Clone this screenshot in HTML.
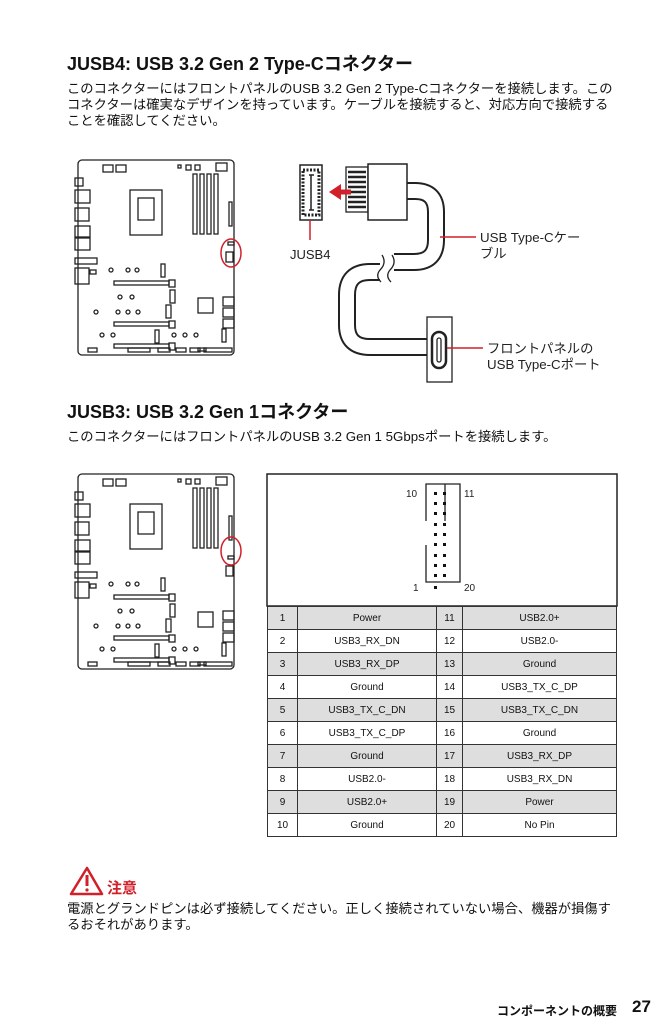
<!DOCTYPE html>
<html><head><meta charset="utf-8"><style>
body{margin:0;width:669px;height:1024px;background:#fff;position:relative;font-family:"Liberation Sans","Noto Sans CJK JP",sans-serif;color:#111;overflow:hidden}
.a{position:absolute;white-space:nowrap}
h2{position:absolute;margin:0;font-size:18px;font-weight:bold}
.p{font-size:13.3px;line-height:16px}
table{position:absolute;left:267px;top:606px;width:350px;border-collapse:collapse;font-size:10px}
td{border:1px solid #333;height:22px;padding:0;text-align:center}
tr.g td{background:#dedede}
</style></head><body>
<h2 class="a" style="left:67px;top:50px">JUSB4: USB 3.2 Gen 2 Type-Cコネクター</h2>
<div class="a p" style="left:67px;top:81px">このコネクターにはフロントパネルのUSB 3.2 Gen 2 Type-Cコネクターを接続します。この<br>コネクターは確実なデザインを持っています。ケーブルを接続すると、対応方向で接続する<br>ことを確認してください。</div>

<svg class="a" style="left:0;top:0" width="669" height="1024">
<defs>
<g id="mb" fill="none" stroke="#222" stroke-width="1.3">
<rect x="0" y="0" width="156" height="195" rx="4"/>
<rect x="-3" y="18" width="8" height="8"/><rect x="-3" y="30" width="15" height="13"/><rect x="-3" y="48" width="14" height="13"/><rect x="-3" y="66" width="15" height="11"/><rect x="-3" y="78" width="15" height="12"/><rect x="-3" y="98" width="22" height="6"/><rect x="-3" y="108" width="14" height="16"/>
<rect x="25" y="5" width="10" height="7"/><rect x="38" y="5" width="10" height="7"/>
<rect x="100" y="5" width="3" height="3"/><rect x="108" y="5" width="5" height="5"/><rect x="117" y="5" width="5" height="5"/><rect x="138" y="3" width="11" height="8"/>
<rect x="115" y="14" width="4" height="60"/><rect x="122" y="14" width="4" height="60"/><rect x="129" y="14" width="4" height="60"/><rect x="136" y="14" width="4" height="60"/>
<rect x="52" y="30" width="32" height="45"/><rect x="60" y="38" width="16" height="22"/>
<rect x="151" y="42" width="3" height="24"/><rect x="150" y="82" width="6" height="3"/><rect x="148" y="92" width="7" height="10"/>
<rect x="12" y="110" width="6" height="4"/>
<circle cx="33" cy="110" r="2"/><circle cx="50" cy="110" r="2"/><circle cx="59" cy="110" r="2"/>
<rect x="83" y="104" width="4" height="13"/>
<rect x="36" y="121" width="55" height="4"/><rect x="91" y="120" width="6" height="7"/><rect x="92" y="130" width="5" height="13"/>
<circle cx="42" cy="137" r="2"/><circle cx="54" cy="137" r="2"/>
<rect x="120" y="138" width="15" height="15"/><rect x="145" y="137" width="11" height="9"/><rect x="145" y="148" width="11" height="9"/><rect x="145" y="159" width="11" height="9"/>
<circle cx="18" cy="152" r="2"/><circle cx="40" cy="152" r="2"/><circle cx="50" cy="152" r="2"/><circle cx="60" cy="152" r="2"/>
<rect x="88" y="145" width="5" height="13"/>
<rect x="36" y="162" width="55" height="4"/><rect x="91" y="161" width="6" height="7"/>
<circle cx="24" cy="175" r="2"/><circle cx="35" cy="175" r="2"/>
<rect x="77" y="170" width="4" height="13"/>
<circle cx="96" cy="175" r="2"/><circle cx="107" cy="175" r="2"/><circle cx="118" cy="175" r="2"/>
<rect x="144" y="169" width="4" height="13"/>
<rect x="36" y="184" width="55" height="4"/><rect x="91" y="183" width="6" height="7"/>
<rect x="120" y="188" width="8" height="3"/>
<rect x="10" y="188" width="9" height="4"/><rect x="50" y="188" width="22" height="4"/><rect x="80" y="188" width="12" height="4"/><rect x="98" y="188" width="10" height="4"/><rect x="112" y="188" width="10" height="4"/><rect x="126" y="188" width="28" height="4"/>
</g>
</defs>
<use href="#mb" x="78" y="160"/>
<ellipse cx="231" cy="253" rx="10" ry="14" fill="none" stroke="#d0202a" stroke-width="1.5"/>
<use href="#mb" x="78" y="474"/>
<ellipse cx="231" cy="551" rx="10" ry="14" fill="none" stroke="#d0202a" stroke-width="1.5"/>

<path d="M405,191 H415 Q436,191 436,212 V240 Q436,262 414,262 H385" fill="none" stroke="#222" stroke-width="18"/>
<path d="M405,191 H415 Q436,191 436,212 V240 Q436,262 414,262 H385" fill="none" stroke="#fff" stroke-width="14"/>
<path d="M392,272 H370 Q347,272 347,295 V325 Q347,347 370,347 H430" fill="none" stroke="#222" stroke-width="18"/>
<path d="M392,272 H370 Q347,272 347,295 V325 Q347,347 370,347 H430" fill="none" stroke="#fff" stroke-width="14"/>
<rect x="380" y="252" width="14" height="30" fill="#fff"/>
<path d="M382,255 q5,8 -2,15 q-5,6 1,12 M392,255 q5,8 -2,15 q-5,6 1,12" fill="none" stroke="#222" stroke-width="1.3"/>
<rect x="300" y="165" width="22" height="55" fill="#fff" stroke="#222" stroke-width="1.5"/>
<rect x="303" y="170" width="16" height="45" fill="#fff" stroke="#222" stroke-width="3" stroke-dasharray="2 1.5"/>
<path d="M309,175 H314 M311,175 V210 M309,210 H314" stroke="#222" stroke-width="1.5"/>
<rect x="346" y="167" width="22" height="45" fill="#fff" stroke="#222" stroke-width="1.3"/>
<path d="M348,172 H366 M348,177 H366 M348,182 H366 M348,187 H366 M348,192 H366 M348,197 H366 M348,202 H366 M348,207 H366" stroke="#222" stroke-width="2.5"/>
<rect x="368" y="164" width="39" height="56" fill="#fff" stroke="#222" stroke-width="1.5"/>
<path d="M351,192 H340" stroke="#d0202a" stroke-width="5"/>
<polygon points="329,192 341,184 341,200" fill="#d0202a"/>
<path d="M310,220 V240" stroke="#d0202a" stroke-width="1.5"/>
<text x="290" y="259" font-size="13" font-family="Liberation Sans" fill="#222">JUSB4</text>
<rect x="427" y="317" width="25" height="65" fill="#fff" stroke="#222" stroke-width="1.3"/>
<rect x="432" y="332" width="14" height="36" rx="7" fill="#fff" stroke="#222" stroke-width="2.5"/>
<rect x="437" y="338" width="4" height="24" rx="2" fill="#fff" stroke="#222" stroke-width="1.3"/>
<path d="M440,237 H476" stroke="#d0202a" stroke-width="1.5"/>
<path d="M447,348 H483" stroke="#d0202a" stroke-width="1.5"/>

<rect x="267" y="474" width="350" height="132" fill="none" stroke="#222" stroke-width="1.5"/>
<path d="M445,521 V484 H460 V582 H426 V545 M426,521 V484 H445" fill="none" stroke="#222" stroke-width="1.3"/>
<g fill="#111">
<rect x="434" y="492" width="3" height="3"/><rect x="443" y="492" width="3" height="3"/>
<rect x="434" y="502" width="3" height="3"/><rect x="443" y="502" width="3" height="3"/>
<rect x="434" y="512" width="3" height="3"/><rect x="443" y="512" width="3" height="3"/>
<rect x="434" y="523" width="3" height="3"/><rect x="443" y="523" width="3" height="3"/>
<rect x="434" y="533" width="3" height="3"/><rect x="443" y="533" width="3" height="3"/>
<rect x="434" y="543" width="3" height="3"/><rect x="443" y="543" width="3" height="3"/>
<rect x="434" y="554" width="3" height="3"/><rect x="443" y="554" width="3" height="3"/>
<rect x="434" y="564" width="3" height="3"/><rect x="443" y="564" width="3" height="3"/>
<rect x="434" y="574" width="3" height="3"/><rect x="443" y="574" width="3" height="3"/>
<rect x="434" y="586" width="3" height="3"/>
</g>
<text x="406" y="497" font-size="10" fill="#222">10</text>
<text x="464" y="497" font-size="10" fill="#222">11</text>
<text x="413" y="591" font-size="10" fill="#222">1</text>
<text x="464" y="591" font-size="10" fill="#222">20</text>

<path d="M87,868 L102,894 H71 Z" fill="none" stroke="#d0202a" stroke-width="2.5" stroke-linejoin="round"/>
<rect x="85.5" y="875" width="3" height="11" fill="#d0202a"/><circle cx="87" cy="890" r="1.6" fill="#d0202a"/>
</svg>

<div class="a p" style="left:480px;top:230px;color:#222">USB Type-Cケー<br>ブル</div>
<div class="a p" style="left:487px;top:341px;color:#222">フロントパネルの<br>USB Type-Cポート</div>

<h2 class="a" style="left:67px;top:398px">JUSB3: USB 3.2 Gen 1コネクター</h2>
<div class="a p" style="left:67px;top:429px">このコネクターにはフロントパネルのUSB 3.2 Gen 1 5Gbpsポートを接続します。</div>

<table>
<colgroup><col style="width:30px"><col style="width:139px"><col style="width:26px"><col></colgroup>
<tr class="g"><td>1</td><td>Power</td><td>11</td><td>USB2.0+</td></tr>
<tr><td>2</td><td>USB3_RX_DN</td><td>12</td><td>USB2.0-</td></tr>
<tr class="g"><td>3</td><td>USB3_RX_DP</td><td>13</td><td>Ground</td></tr>
<tr><td>4</td><td>Ground</td><td>14</td><td>USB3_TX_C_DP</td></tr>
<tr class="g"><td>5</td><td>USB3_TX_C_DN</td><td>15</td><td>USB3_TX_C_DN</td></tr>
<tr><td>6</td><td>USB3_TX_C_DP</td><td>16</td><td>Ground</td></tr>
<tr class="g"><td>7</td><td>Ground</td><td>17</td><td>USB3_RX_DP</td></tr>
<tr><td>8</td><td>USB2.0-</td><td>18</td><td>USB3_RX_DN</td></tr>
<tr class="g"><td>9</td><td>USB2.0+</td><td>19</td><td>Power</td></tr>
<tr><td>10</td><td>Ground</td><td>20</td><td>No Pin</td></tr>
</table>

<div class="a" style="left:107px;top:877px;font-size:15px;font-weight:bold;color:#d0202a">注意</div>
<div class="a p" style="left:67px;top:901px">電源とグランドピンは必ず接続してください。正しく接続されていない場合、機器が損傷す<br>るおそれがあります。</div>
<div class="a" style="left:497px;top:1002px;font-size:12px;font-weight:bold">コンポーネントの概要</div>
<div class="a" style="left:632px;top:997px;font-size:17px;font-weight:bold">27</div>
</body></html>
